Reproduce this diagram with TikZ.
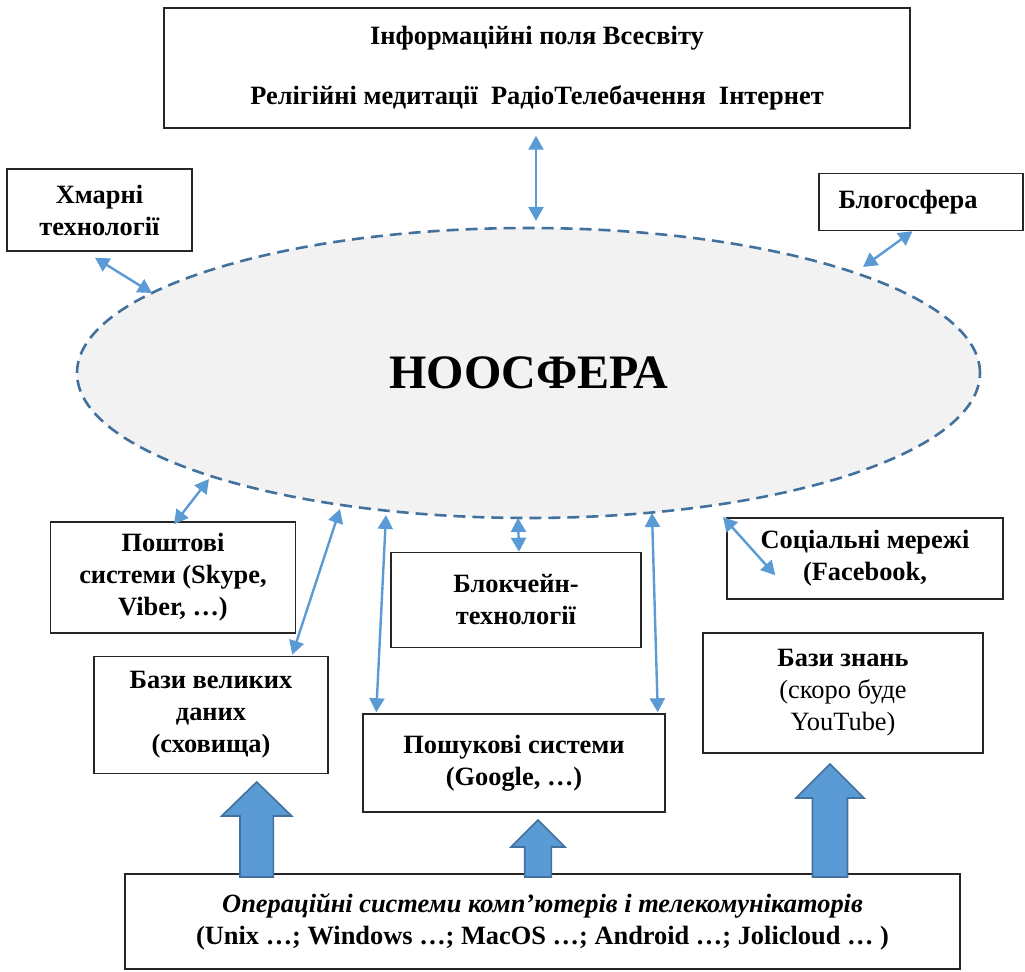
\documentclass[tikz,border=0pt]{standalone}
\usepackage{fontspec}
\setmainfont{Liberation Serif}
\usetikzlibrary{arrows.meta,shapes.geometric}
\definecolor{linkblue}{HTML}{5B9BD5}
\definecolor{edgeblue}{HTML}{41719C}
\definecolor{noogray}{HTML}{F2F2F2}

\tikzset{
	blk/.style={draw=black!85, line width=0.75pt, fill=white, align=center, inner sep=0pt, font=\bfseries\fontsize{13.2}{16}\selectfont},
	sz/.style 2 args={minimum width=#1*0.5pt, minimum height=#2*0.5pt},
	lnk/.style={<->, >={Triangle[length=7pt,width=7.5pt]}, draw=linkblue, line width=1.2pt},
	uparrow/.style={fill=linkblue, draw=edgeblue, line width=0.8pt, line join=miter}
}

\begin{document}
\begin{tikzpicture}[x=0.5pt, y=-0.5pt]
	% frame (pixel units, y down)
	\useasboundingbox (0,0) rectangle (1025,972);
	
	%noosphere
	\node[ellipse, draw=edgeblue, fill=noogray, line width=1.3pt, dash pattern=on 6pt off 3.5pt, minimum width=451.5pt, minimum height=145pt, inner sep=0pt, font=\bfseries\fontsize{24}{28}\selectfont] (noo) at (528.5,373) {\raisebox{-1.5pt}{НООСФЕРА}};
	
	%boxes
	\node[blk, sz={746}{120}] (top) at (537,68) {Інформаційні поля Всесвіту\\[14pt]Релігійні медитації\ \ РадіоТелебачення\ \ Інтернет};
	\node[blk, sz={185}{82}] (xm) at (99.5,210) {Хмарні\\технології};
	\node[blk, sz={204}{57}] (blog) at (921,202) {Блогосфера\hspace*{13pt}};
	\node[blk, sz={245}{111}] (post) at (173,577.5) {Поштові\\системи (Skype,\\Viber, …)};
	\node[blk, sz={234}{117}] (big) at (211,715) {Бази великих\\даних\\(сховища)};
	\node[blk, sz={250}{95}] (chain) at (516,600) {Блокчейн-\\технології};
	\node[blk, sz={302}{98}] (search) at (514,763) {Пошукові системи\\(Google, …)};
	\node[blk, sz={276}{81}] (soc) at (865,558.5) {Соціальні мережі\\(Facebook,};
	\node[blk, sz={280}{120}] (know) at (843,693) {Бази знань\\{\mdseries (скоро буде}\\{\mdseries YouTube)}};
	\node[blk, sz={835}{95}] (os) at (542.5,921.5) {{\itshape Операційні системи комп’ютерів і телекомунікаторів}\\(Unix …; Windows …; MacOS …; Android …; Jolicloud … )};
	
	%ends on the sphere
	\coordinate (e-top) at (536,221);
	\coordinate (e-xm) at (152,293);
	\coordinate (e-blog) at (863,267);
	\coordinate (e-post) at (209,479);
	\coordinate (e-big) at (340,509);
	\coordinate (e-sl) at (386,515);
	\coordinate (e-chain) at (518,518);
	\coordinate (e-sr) at (652,513);
	\coordinate (e-soc) at (723,517);
	
	%links
	\draw[lnk] ([shift={(-1,7)}]top.south) -- (e-top);
	\draw[lnk] ([shift={(-4.5,6)}]xm.south) -- (e-xm);
	\draw[lnk] ([shift={(-8.5,0)}]blog.south) -- (e-blog);
	\draw[lnk] ([shift={(1,3)}]post.north) -- (e-post);
	\draw[lnk] ([shift={(-36.5,-1)}]big.north east) -- (e-big);
	\draw[lnk] ([shift={(14,-1)}]search.north west) -- (e-sl);
	\draw[lnk] ([shift={(3,0)}]chain.north) -- (e-chain);
	\draw[lnk] ([shift={(-8,-1)}]search.north east) -- (e-sr);
	\draw[lnk] ([shift={(49,58)}]soc.north west) -- (e-soc);
	
	%block arrows from the OS box
	\foreach \cx/\ty/\hy/\hw/\sw in {256.7/782/816/35/16.7, 538/820/847/27/13.3, 830/764/798/34/17.5} {
		\filldraw[uparrow] (\cx,\ty) -- (\cx+\hw,\hy) -- (\cx+\sw,\hy) -- (\cx+\sw,877) -- (\cx-\sw,877) -- (\cx-\sw,\hy) -- (\cx-\hw,\hy) -- cycle;
	}
\end{tikzpicture}
\end{document}
